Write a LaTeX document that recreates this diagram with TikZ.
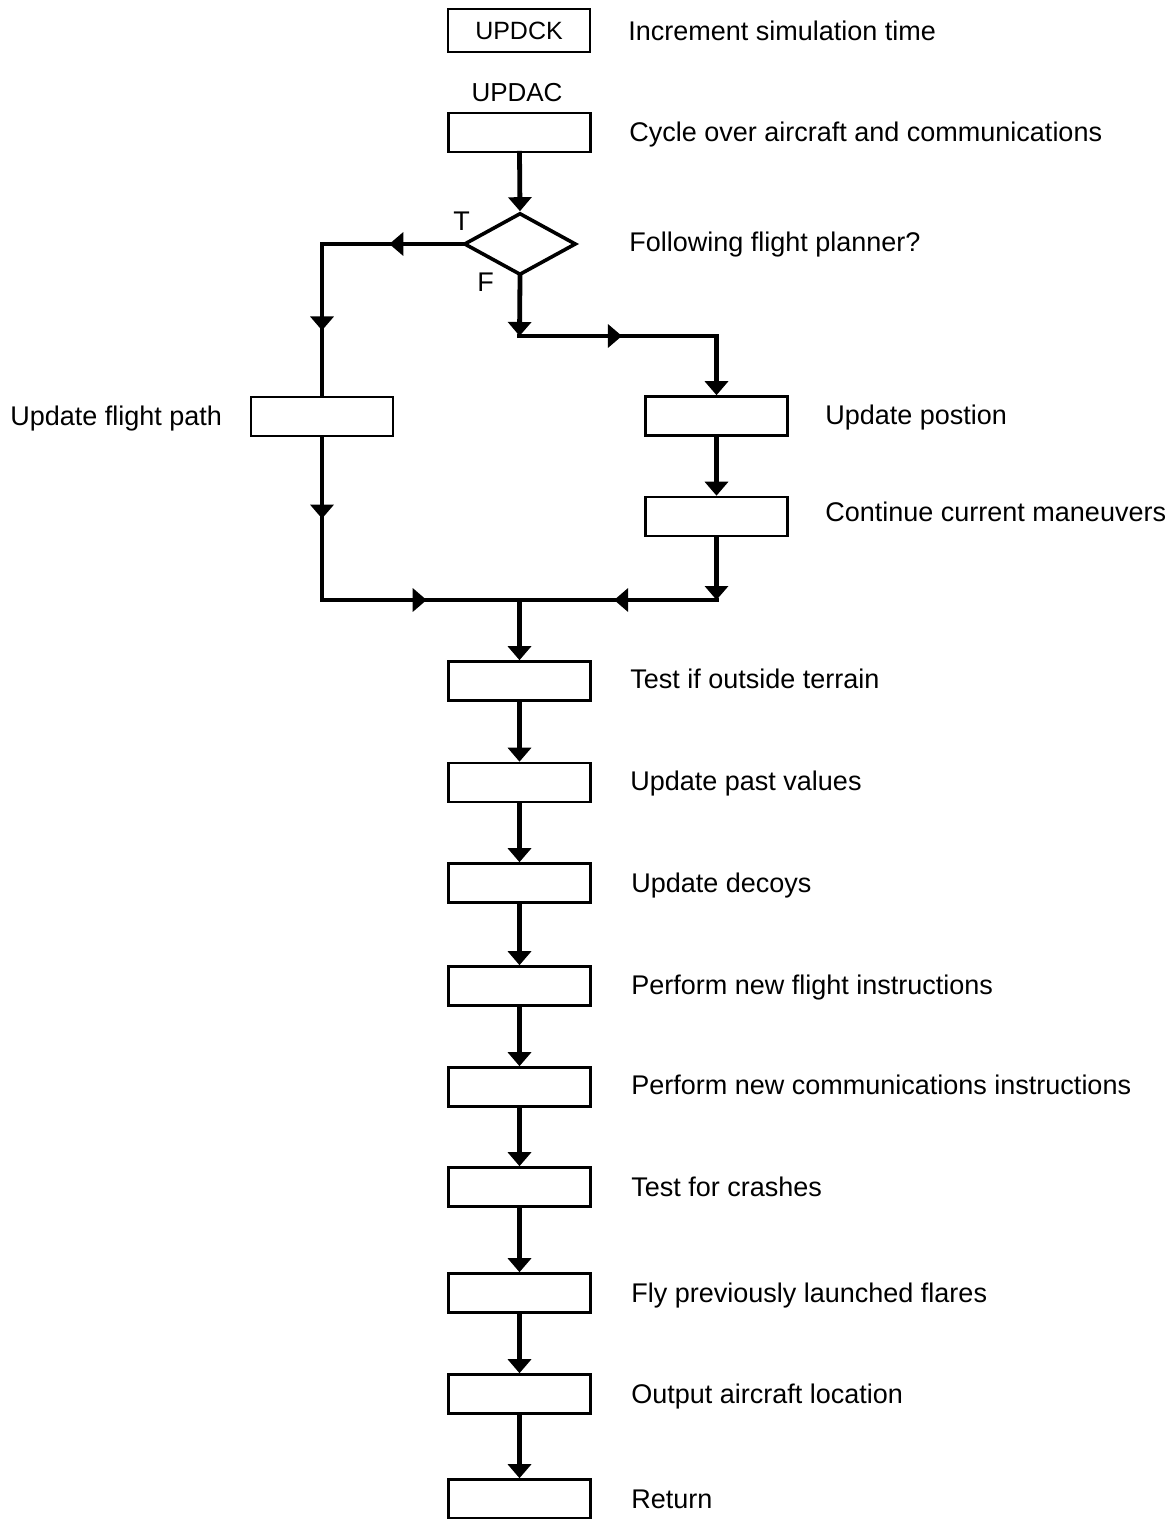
\documentclass[tikz,border=0pt]{standalone}
\usepackage{fontspec}
\setmainfont{Liberation Sans}
\usetikzlibrary{arrows.meta,shapes.geometric,decorations.markings}
\begin{document}
\begin{tikzpicture}[x=0.5pt,y=-0.5pt,
  box/.style={draw, line width=1.3pt, minimum width=71pt, minimum height=19.5pt, inner sep=0pt},
  decision/.style={draw, shape=diamond, line width=1.8pt, minimum width=56pt, minimum height=31pt, aspect=1.78, inner sep=0pt},
  lbl/.style={anchor=base west, font=\fontsize{13.5}{16}\selectfont, inner sep=0pt},
  flow/.style={line width=2.4pt, line cap=rect},
  tip/.style={-{Triangle[width=11.5pt,length=7pt]}},
  midarrow/.style={decoration={markings, mark=at position #1 with {\arrow{Triangle[width=11.5pt,length=7pt]}}}, postaction={decorate}}
]
\useasboundingbox (0,0) rectangle (1172,1519);
\fill[white] (0,0) rectangle (1172,1519);

% boxes
\node[box, minimum height=21.5pt, font=\fontsize{12.5}{15}\selectfont] (ck) at (519,30.5) {UPDCK};
\node[anchor=base, font=\fontsize{13}{16}\selectfont, inner sep=0pt] (acl) at (517,102) {UPDAC};
\node[box] (ac) at (519.5,132.5) {};
\node[decision] (dia) at (520,244) {};
\node[box] (fp) at (322,416.5) {};
\node[box] (pos) at (716.5,416) {};
\node[box] (man) at (716.5,516.5) {};
\node[box] (t1) at (519.5,681) {};
\node[box] (t2) at (519.5,782.5) {};
\node[box] (t3) at (519.5,883) {};
\node[box] (t4) at (519.5,986) {};
\node[box] (t5) at (519.5,1087) {};
\node[box] (t6) at (519.5,1187) {};
\node[box] (t7) at (519.5,1293) {};
\node[box] (t8) at (519.5,1394) {};
\node[box] (t9) at (519.5,1499) {};

% labels
\node[lbl] (l0) at (628,41) {Increment simulation time};
\node[lbl] (l1) at (629,142) {Cycle over aircraft and communications};
\node[lbl] (l2) at (629,252) {Following flight planner?};
\node[lbl] (lT) at (453,231) {T};
\node[lbl] (lF) at (477,292) {F};
\node[lbl] (l3) at (10,425) {Update flight path};
\node[lbl] (l4) at (825,424) {Update postion};
\node[lbl] (l5) at (825,521) {Continue current maneuvers};
\node[lbl] (l6) at (630,688) {Test if outside terrain};
\node[lbl] (l7) at (630,790) {Update past values};
\node[lbl] (l8) at (631,892) {Update decoys};
\node[lbl] (l9) at (631,994) {Perform new flight instructions};
\node[lbl] (l10) at (631,1094) {Perform new communications instructions};
\node[lbl] (l11) at (631,1196) {Test for crashes};
\node[lbl] (l12) at (631,1302) {Fly previously launched flares};
\node[lbl] (l13) at (631,1403) {Output aircraft location};
\node[lbl] (l14) at (631,1508) {Return};

% corner coordinates
\coordinate (cT) at (fp.north |- dia.west);
\coordinate (cF) at (519.5,336);
\coordinate (cFR) at (pos.north |- cF);
\coordinate (cM) at (519.5,600);
\coordinate (cBL) at (fp.south |- cM);
\coordinate (cBR) at (man.south |- cM);

% connectors
\draw[flow, tip] (ac.south) -- (dia.north);
\draw[flow, midarrow=0.52] (dia.west) -- (cT);
\draw[flow, midarrow=0.57] (cT) -- (fp.north);
\draw[flow, midarrow=0.5] (fp.south) -- (cBL);
\draw[flow, midarrow=0.53] (cBL) -- (cM);
\draw[flow, tip] (dia.south) -- (cF);
\draw[flow, midarrow=0.52] (cF) -- (cFR);
\draw[flow, tip] (cFR) -- (pos.north);
\draw[flow, tip] (pos.south) -- (man.north);
\draw[flow, tip] (man.south) -- (cBR);
\draw[flow, midarrow=0.52] (cBR) -- (cM);
\draw[flow, tip] (cM) -- (t1.north);
\draw[flow, tip] (t1.south) -- (t2.north);
\draw[flow, tip] (t2.south) -- (t3.north);
\draw[flow, tip] (t3.south) -- (t4.north);
\draw[flow, tip] (t4.south) -- (t5.north);
\draw[flow, tip] (t5.south) -- (t6.north);
\draw[flow, tip] (t6.south) -- (t7.north);
\draw[flow, tip] (t7.south) -- (t8.north);
\draw[flow, tip] (t8.south) -- (t9.north);
\end{tikzpicture}
\end{document}
